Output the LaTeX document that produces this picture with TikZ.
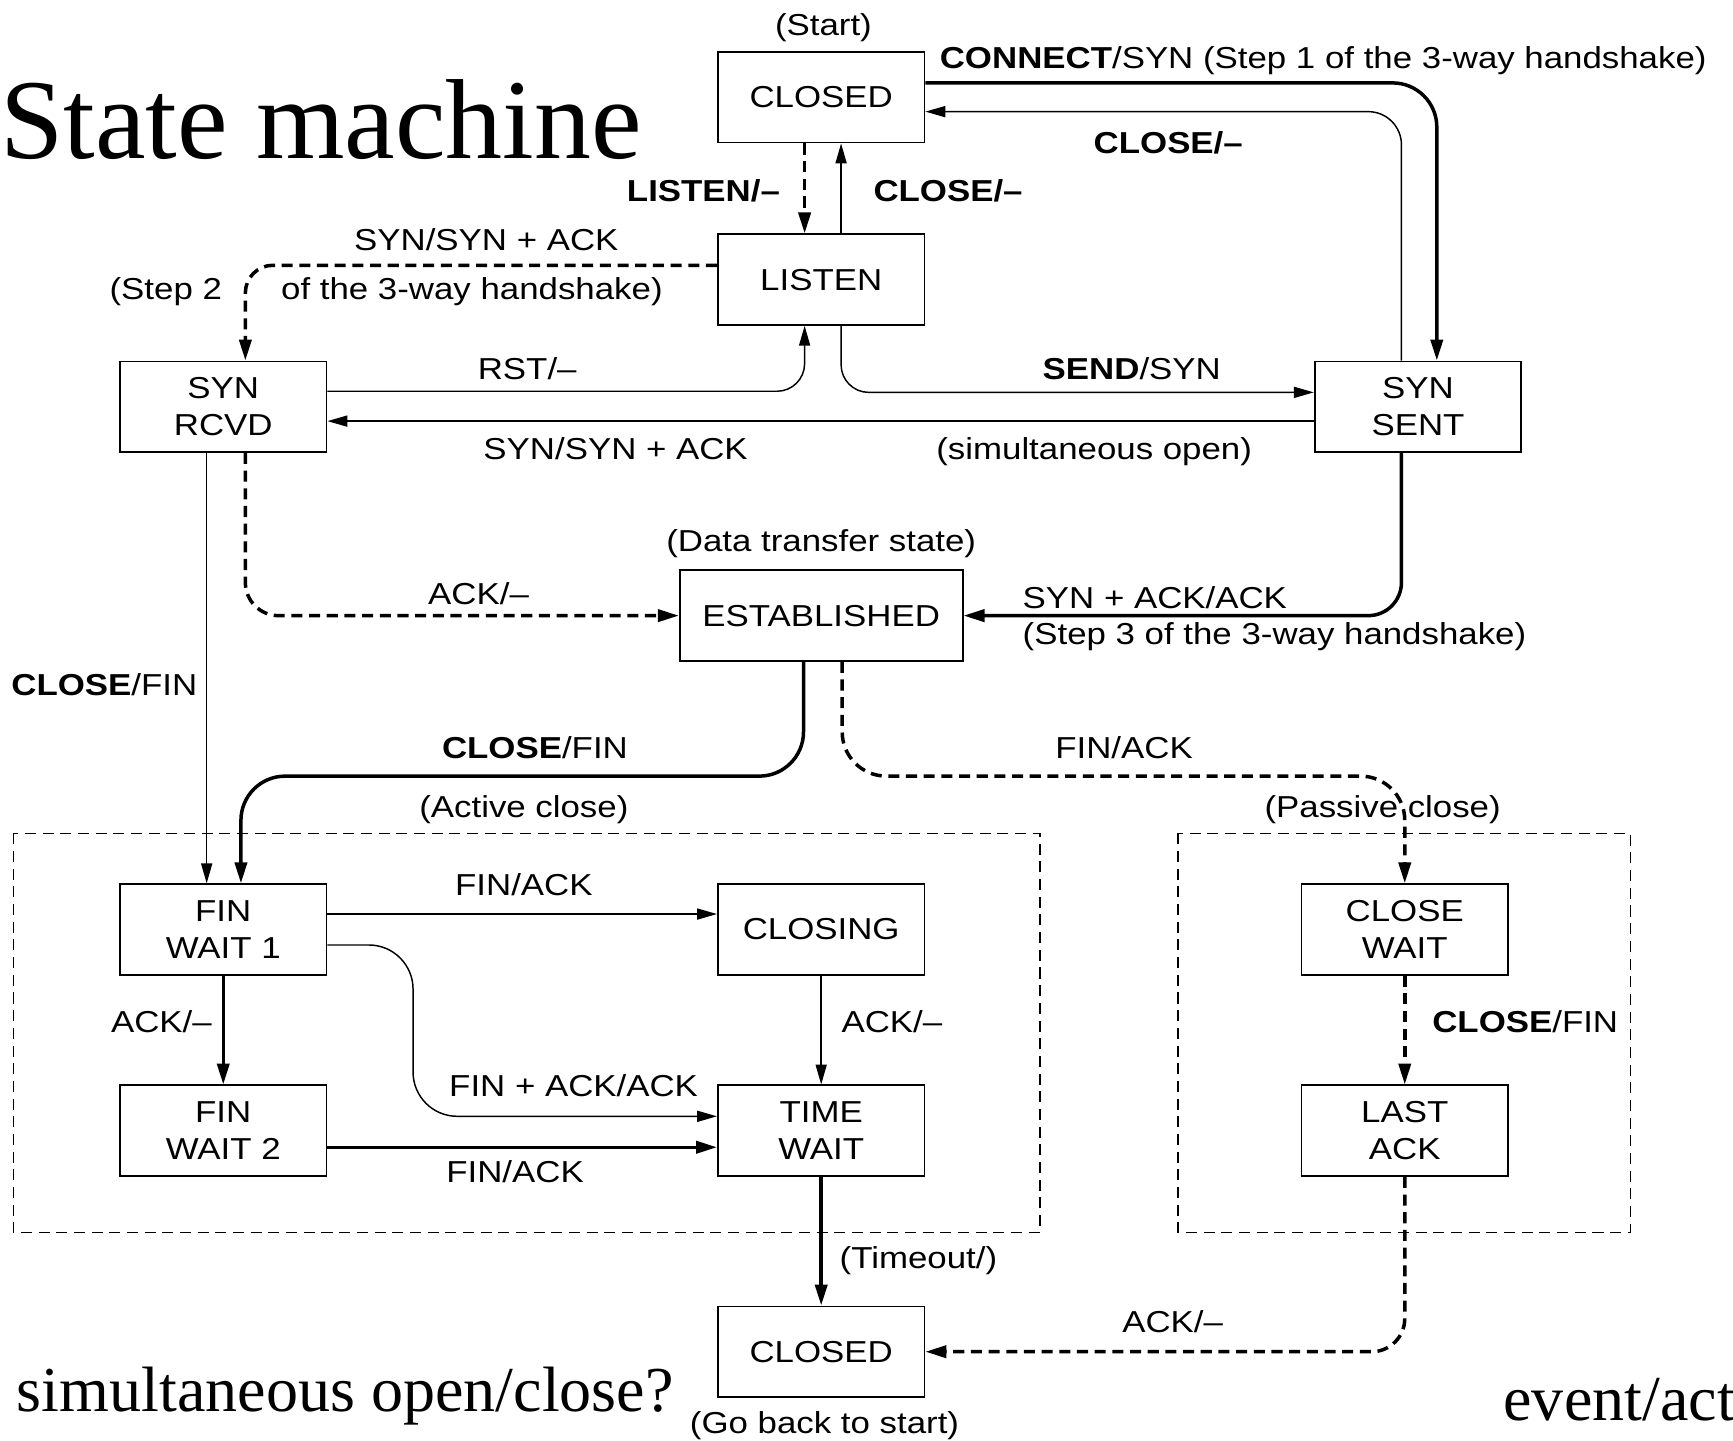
\documentclass[tikz,border=0pt]{standalone}
\usepackage{fontspec}
\newfontfamily\diagfont{Liberation Sans}[FakeStretch=1.15]
\newfontfamily\slidefont{Liberation Serif}
\usetikzlibrary{arrows.meta,calc}

\begin{document}
\begin{tikzpicture}[
  x=0.02cm, y=-0.02cm,
  every node/.style={font=\diagfont\fontsize{15.6}{18.8}\selectfont},
  statebox/.style={draw,line width=0.9pt,minimum width=3.74cm,minimum height=1.64cm,
                   align=center,inner sep=2pt},
  lbl/.style={inner sep=0pt,text height=0.72em,text depth=0pt,yshift=-0.08cm},
  thinarr/.style={line width=0.75pt,-{Triangle[length=0.36cm,width=0.2cm]},rounded corners=0.6cm},
  thickarr/.style={line width=1.8pt,-{Triangle[length=0.38cm,width=0.22cm]},rounded corners=0.8cm},
  dasharr/.style={thickarr,dash pattern=on 0.2cm off 0.12cm},
  groupbox/.style={line width=0.75pt,dash pattern=on 0.2cm off 0.12cm},
  slide/.style={font=\slidefont\fontsize{#1}{#1}\selectfont,inner sep=0pt},
]
  \path[use as bounding box,fill=white] (0,0) rectangle (1568,1303);

  % Slide texts
  \node[slide=58.6,anchor=base west] (title) at (0,143) {State machine};
  \node[slide=33,anchor=base west] (question) at (15,1277) {simultaneous open/close?};
  \node[slide=33,anchor=base west] (hint) at (1360,1285) {event/act};

  % Closing groups
  \draw[groupbox] (12,754) rectangle (941,1115);
  \draw[groupbox] (1066,754) rectangle (1475,1115);

  % States
  \node[statebox] (closedA) at (743,88) {CLOSED};
  \node[statebox] (listen) at (743,253) {LISTEN};
  \node[statebox] (synrcvd) at (202,368) {SYN\\RCVD};
  \node[statebox] (synsent) at (1283,368) {SYN\\SENT};
  \node[statebox,minimum width=5.12cm] (estab) at (743,557) {ESTABLISHED};
  \node[statebox] (finwaitA) at (202,841) {FIN\\WAIT 1};
  \node[statebox] (closing) at (743,841) {CLOSING};
  \node[statebox] (finwaitB) at (202,1023) {FIN\\WAIT 2};
  \node[statebox] (timewait) at (743,1023) {TIME\\WAIT};
  \node[statebox] (closewait) at (1271,841) {CLOSE\\WAIT};
  \node[statebox] (lastack) at (1271,1023) {LAST\\ACK};
  \node[statebox] (closedB) at (743,1223) {CLOSED};

  % Opening transitions
  \draw[thickarr] ($(closedA.east)+(0,-13)$) -| ($(synsent.north)+(17,0)$);
  \draw[thinarr] ($(synsent.north)+(-15,0)$) |- ($(closedA.east)+(0,13)$);
  \draw[dasharr] ($(closedA.south)+(-15,0)$) -- ($(listen.north)+(-15,0)$);
  \draw[thinarr] ($(listen.north)+(18,0)$) -- ($(closedA.south)+(18,0)$);
  \draw[dasharr,rounded corners=0.5cm] ($(listen.west)+(0,-13)$) -| ($(synrcvd.north)+(20,0)$);
  \draw[thinarr,rounded corners=0.5cm] ($(synrcvd.east)+(0,-14)$) -| ($(listen.south)+(-15,0)$);
  \draw[thinarr,rounded corners=0.5cm] ($(listen.south)+(18,0)$) |- ($(synsent.west)+(0,-13)$);
  \draw[thinarr] ($(synsent.west)+(0,13)$) -- ($(synrcvd.east)+(0,13)$);
  \draw[dasharr,rounded corners=0.6cm] ($(synrcvd.south)+(20,0)$) |- (estab.west);
  \draw[thickarr,rounded corners=0.6cm] ($(synsent.south)+(-15,0)$) |- (estab.east);

  % Closing transitions
  \draw[thinarr] ($(synrcvd.south)+(-15,0)$) -- ($(finwaitA.north)+(-15,0)$);
  \draw[thickarr] ($(estab.south)+(-16,0)$) |- ($(finwaitA.north)+(16,-97)$)
    -- ($(finwaitA.north)+(16,0)$);
  \draw[dasharr] ($(estab.south)+(19,0)$) |- ($(closewait.north)+(0,-97)$)
    -- (closewait.north);
  \draw[thinarr] ($(finwaitA.east)+(0,-14)$) -- ($(closing.west)+(0,-14)$);
  \draw[thinarr,rounded corners=0.8cm] ($(finwaitA.east)+(0,14)$) -| ($(timewait.west)+(-275,-13)$)
    -- ($(timewait.west)+(0,-13)$);
  \draw[thickarr] (finwaitA.south) -- (finwaitB.north);
  \draw[thinarr] (closing.south) -- (timewait.north);
  \draw[thickarr] ($(finwaitB.east)+(0,15)$) -- ($(timewait.west)+(0,15)$);
  \draw[thickarr] (timewait.south) -- (closedB.north);
  \draw[dasharr] (closewait.south) -- (lastack.north);
  \draw[dasharr,rounded corners=0.6cm] (lastack.south) |- (closedB.east);

  % Labels
  \node[lbl] (tStart) at (745,22) {(Start)};
  \node[lbl,anchor=west] (tConnect) at (850,52) {\textbf{CONNECT}/SYN (Step 1 of the 3-way handshake)};
  \node[lbl] (tCloseA) at (1057,129) {\textbf{CLOSE/–}};
  \node[lbl,anchor=east] (tListen) at (706,172) {\textbf{LISTEN/–}};
  \node[lbl,anchor=west] (tCloseB) at (790,172) {\textbf{CLOSE/–}};
  \node[lbl] (tSynAck) at (440,216) {SYN/SYN + ACK};
  \node[lbl] (tStepTwo) at (150,261) {(Step 2};
  \node[lbl] (tStepTwoB) at (427,261) {of the 3-way handshake)};
  \node[lbl] (tRst) at (477,333) {RST/–};
  \node[lbl] (tSend) at (1024,333) {\textbf{SEND}/SYN};
  \node[lbl] (tSynAckB) at (557,405) {SYN/SYN + ACK};
  \node[lbl] (tSimOpen) at (990,405) {(simultaneous open)};
  \node[lbl] (tData) at (743,489) {(Data transfer state)};
  \node[lbl] (tAckA) at (433,537) {ACK/–};
  \node[lbl,anchor=west] (tSynAckAck) at (925,540) {SYN + ACK/ACK};
  \node[lbl,anchor=west] (tStepThree) at (925,573) {(Step 3 of the 3-way handshake)};
  \node[lbl,anchor=west] (tCloseFinA) at (10,619) {\textbf{CLOSE}/FIN};
  \node[lbl] (tCloseFinB) at (484,676) {\textbf{CLOSE}/FIN};
  \node[lbl] (tFinAckA) at (1017,676) {FIN/ACK};
  \node[lbl] (tActive) at (474,729) {(Active close)};
  \node[lbl] (tPassive) at (1251,729) {(Passive close)};
  \node[lbl] (tFinAckB) at (474,800) {FIN/ACK};
  \node[lbl] (tAckB) at (146,924) {ACK/–};
  \node[lbl] (tAckC) at (807,924) {ACK/–};
  \node[lbl] (tCloseFinC) at (1380,924) {\textbf{CLOSE}/FIN};
  \node[lbl] (tFinAckAck) at (519,982) {FIN + ACK/ACK};
  \node[lbl] (tFinAckC) at (466,1060) {FIN/ACK};
  \node[lbl] (tTimeout) at (831,1137) {(Timeout/)};
  \node[lbl] (tAckD) at (1061,1195) {ACK/–};
  \node[lbl] (tBack) at (746,1287) {(Go back to start)};
\end{tikzpicture}
\end{document}
